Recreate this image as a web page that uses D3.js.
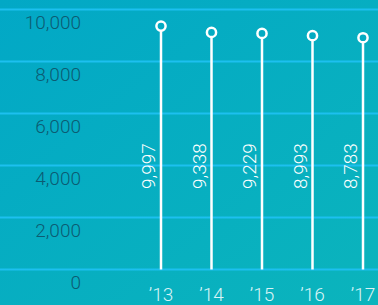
<!DOCTYPE html>
<html>
<head>
<meta charset="utf-8">
<script src="https://cdn.jsdelivr.net/npm/d3@7"></script>
<style>
  html, body { margin: 0; padding: 0; background: #04abc2; }
  svg { display: block; }
  text { font-family: Roboto, "Liberation Sans", sans-serif; font-weight: 300; }
</style>
</head>
<body>
<div id="chart"></div>
<script>
// data
var years = ["’13", "’14", "’15", "’16", "’17"];
var values = [9997, 9338, 9229, 8993, 8783];
var valueLabels = ["9,997", "9,338", "9,229", "8,993", "8,783"];
var yTicks = [0, 2000, 4000, 6000, 8000, 10000];

var width = 378, height = 305;

var svg = d3.select("#chart")
  .append("svg")
    .attr("width", width)
    .attr("height", height);

// subtle background gradient
var defs = svg.append("defs");
var grad = defs.append("linearGradient")
    .attr("id", "bg")
    .attr("x1", "0").attr("y1", "0")
    .attr("x2", "1").attr("y2", "1");
grad.append("stop").attr("offset", "0").attr("stop-color", "#02a8c6");
grad.append("stop").attr("offset", "1").attr("stop-color", "#0bb4bc");

svg.append("rect")
    .attr("width", width)
    .attr("height", height)
    .attr("fill", "url(#bg)");

// scales
var y = d3.scaleLinear()
  .domain([0, 10000])
  .range([269.5, 9.5]);

// stems are drawn on their own (decorative) scale
var stemY = d3.scaleLinear()
  .domain([0, 10000])
  .range([122.4, 26]);

var x = d3.scalePoint()
  .domain(years)
  .range([161, 363]);

// gridlines
svg.selectAll("line.grid")
  .data(yTicks)
  .enter().append("line")
    .attr("class", "grid")
    .attr("x1", 0)
    .attr("x2", width)
    .attr("y1", function(d){ return y(d) })
    .attr("y2", function(d){ return y(d) })
    .attr("stroke", "#1dc0ef")
    .attr("stroke-width", 2);

// y labels (sit below their gridline)
svg.selectAll("text.ylab")
  .data(yTicks)
  .enter().append("text")
    .attr("class", "ylab")
    .attr("x", 81)
    .attr("y", function(d){ return y(d) + 19 })
    .attr("text-anchor", "end")
    .attr("font-size", "19px")
    .attr("fill", "#0c5b72")
    .text(function(d){ return d3.format(",")(d) });

// stems
svg.selectAll("line.stem")
  .data(values)
  .enter().append("line")
    .attr("class", "stem")
    .attr("x1", function(d, i){ return x(years[i]) })
    .attr("x2", function(d, i){ return x(years[i]) })
    .attr("y1", y(0))
    .attr("y2", function(d){ return stemY(d) })
    .attr("stroke", "#ffffff")
    .attr("stroke-width", 2.5);

// heads
svg.selectAll("circle")
  .data(values)
  .enter().append("circle")
    .attr("cx", function(d, i){ return x(years[i]) })
    .attr("cy", function(d){ return stemY(d) })
    .attr("r", 4.6)
    .attr("fill", "#04abc2")
    .attr("stroke", "#ffffff")
    .attr("stroke-width", 2.5);

// value labels, rotated
svg.selectAll("text.vlab")
  .data(valueLabels)
  .enter().append("text")
    .attr("class", "vlab")
    .attr("transform", function(d, i){ return "translate(" + (x(years[i]) - 6) + ",189) rotate(-90)" })
    .attr("font-size", "19px")
    .attr("fill", "#ffffff")
    .text(function(d){ return d });

// x labels
svg.selectAll("text.xlab")
  .data(years)
  .enter().append("text")
    .attr("class", "xlab")
    .attr("x", function(d){ return x(d) })
    .attr("y", 301)
    .attr("text-anchor", "middle")
    .attr("font-size", "19px")
    .attr("fill", "#d9f3f6")
    .text(function(d){ return d });
</script>
</body>
</html>
